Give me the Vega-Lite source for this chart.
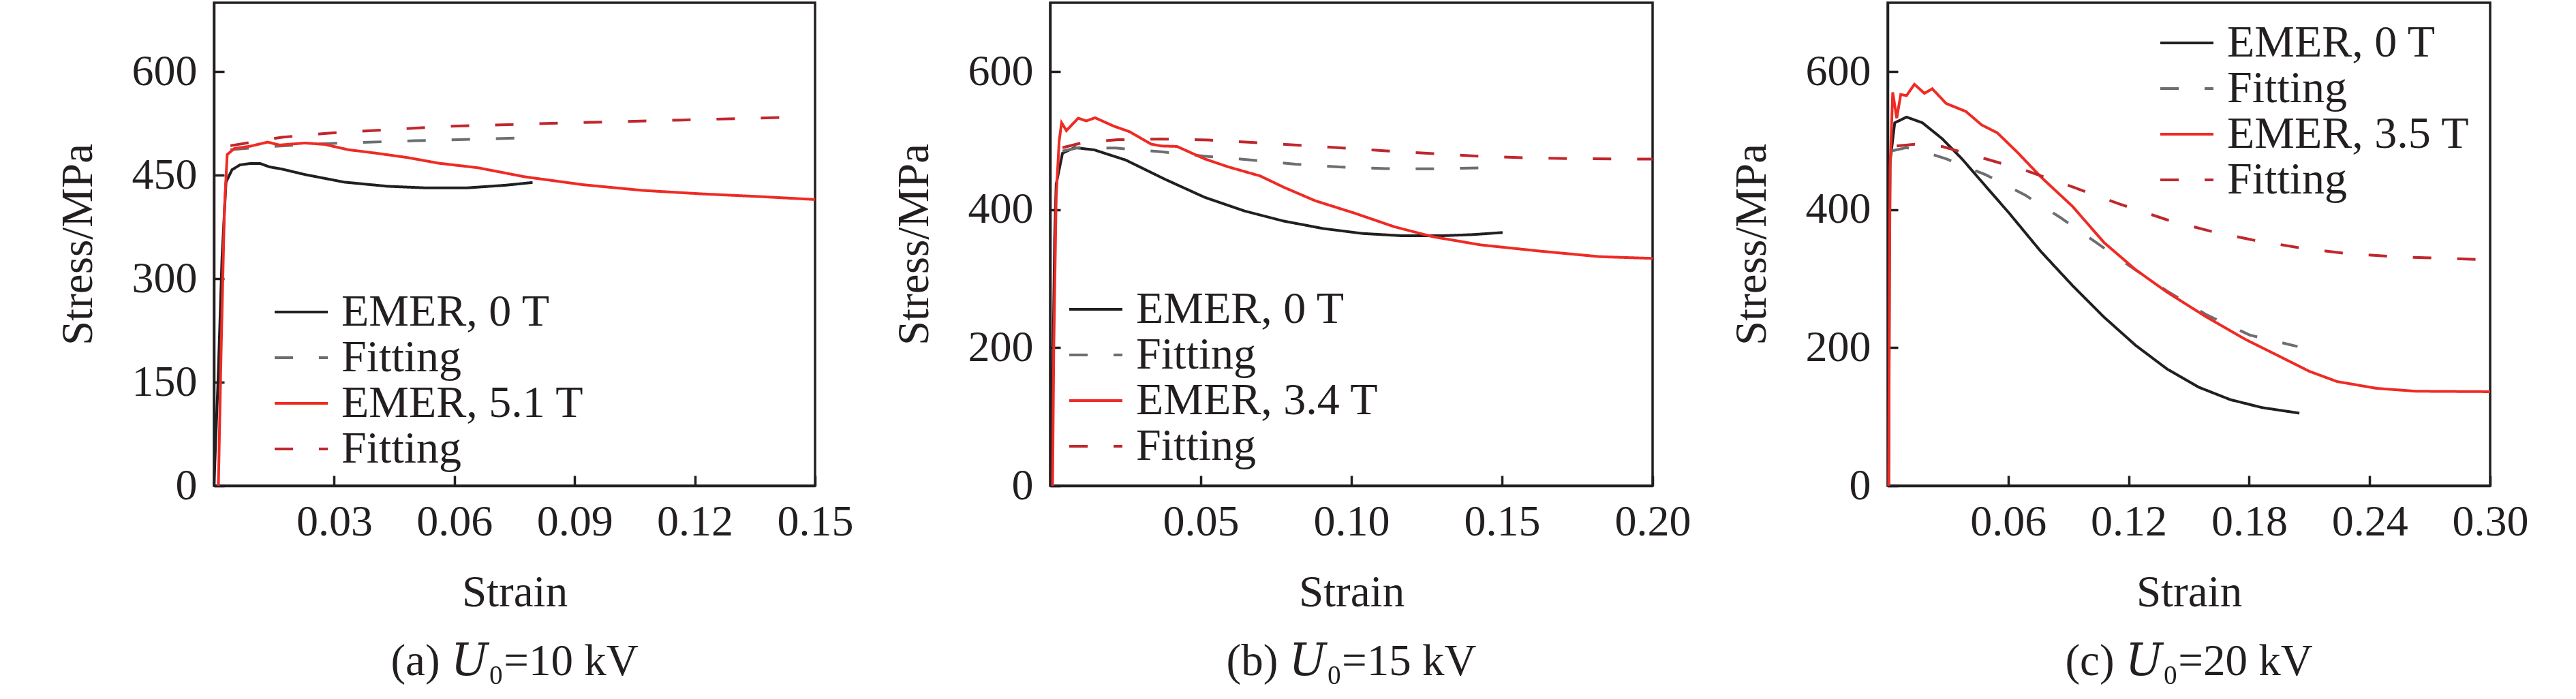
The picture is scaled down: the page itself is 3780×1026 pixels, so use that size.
{
  "$schema": "https://vega.github.io/schema/vega-lite/v6.json",
  "background": "white",
  "padding": {"left": 80, "top": 2, "right": 0, "bottom": 0},
  "spacing": 345,
  "bounds": "flush",
  "datasets": {
    "a": [
      {"s": 0, "v": 0, "k": "EMER, 0 T"}, {"s": 0.001, "v": 150, "k": "EMER, 0 T"}, {"s": 0.002, "v": 330, "k": "EMER, 0 T"},
      {"s": 0.003, "v": 440, "k": "EMER, 0 T"}, {"s": 0.0045, "v": 458, "k": "EMER, 0 T"}, {"s": 0.0065, "v": 465, "k": "EMER, 0 T"},
      {"s": 0.009, "v": 467, "k": "EMER, 0 T"}, {"s": 0.0115, "v": 467, "k": "EMER, 0 T"}, {"s": 0.0139, "v": 462, "k": "EMER, 0 T"},
      {"s": 0.0169, "v": 459, "k": "EMER, 0 T"}, {"s": 0.0227, "v": 451, "k": "EMER, 0 T"}, {"s": 0.0325, "v": 440, "k": "EMER, 0 T"},
      {"s": 0.0433, "v": 434, "k": "EMER, 0 T"}, {"s": 0.0531, "v": 431.6, "k": "EMER, 0 T"}, {"s": 0.0629, "v": 431.6, "k": "EMER, 0 T"},
      {"s": 0.0727, "v": 435.5, "k": "EMER, 0 T"}, {"s": 0.0795, "v": 439.5, "k": "EMER, 0 T"},
      {"s": 0.0041, "v": 487, "k": "Fitting"}, {"s": 0.015, "v": 492, "k": "Fitting"}, {"s": 0.0286, "v": 496, "k": "Fitting"},
      {"s": 0.05, "v": 500, "k": "Fitting"}, {"s": 0.0766, "v": 504, "k": "Fitting"},
      {"s": 0.0011, "v": 0, "k": "EMER, 5.1 T"}, {"s": 0.0018, "v": 200, "k": "EMER, 5.1 T"}, {"s": 0.0026, "v": 400, "k": "EMER, 5.1 T"},
      {"s": 0.0033, "v": 480, "k": "EMER, 5.1 T"}, {"s": 0.0051, "v": 488.8, "k": "EMER, 5.1 T"}, {"s": 0.009, "v": 492, "k": "EMER, 5.1 T"},
      {"s": 0.0134, "v": 498, "k": "EMER, 5.1 T"}, {"s": 0.0164, "v": 493.8, "k": "EMER, 5.1 T"}, {"s": 0.0227, "v": 496.7, "k": "EMER, 5.1 T"},
      {"s": 0.0276, "v": 494.7, "k": "EMER, 5.1 T"}, {"s": 0.0335, "v": 487, "k": "EMER, 5.1 T"}, {"s": 0.0404, "v": 482, "k": "EMER, 5.1 T"},
      {"s": 0.0482, "v": 475.7, "k": "EMER, 5.1 T"}, {"s": 0.056, "v": 467.5, "k": "EMER, 5.1 T"}, {"s": 0.0658, "v": 460.9, "k": "EMER, 5.1 T"},
      {"s": 0.0776, "v": 447.7, "k": "EMER, 5.1 T"}, {"s": 0.0922, "v": 436.2, "k": "EMER, 5.1 T"}, {"s": 0.107, "v": 428, "k": "EMER, 5.1 T"},
      {"s": 0.1217, "v": 423, "k": "EMER, 5.1 T"}, {"s": 0.1364, "v": 419, "k": "EMER, 5.1 T"}, {"s": 0.15, "v": 414.8, "k": "EMER, 5.1 T"},
      {"s": 0.0041, "v": 492.8, "k": "Fitting "}, {"s": 0.0169, "v": 505, "k": "Fitting "}, {"s": 0.0286, "v": 511, "k": "Fitting "},
      {"s": 0.058, "v": 520.8, "k": "Fitting "}, {"s": 0.0874, "v": 525.7, "k": "Fitting "}, {"s": 0.1168, "v": 530, "k": "Fitting "},
      {"s": 0.1434, "v": 534, "k": "Fitting "}
    ],
    "b": [
      {"s": 0.0005, "v": 0, "k": "EMER, 0 T"}, {"s": 0.001, "v": 200, "k": "EMER, 0 T"}, {"s": 0.0015, "v": 360, "k": "EMER, 0 T"},
      {"s": 0.002, "v": 437, "k": "EMER, 0 T"}, {"s": 0.0041, "v": 482, "k": "EMER, 0 T"}, {"s": 0.0081, "v": 490, "k": "EMER, 0 T"},
      {"s": 0.0146, "v": 486.8, "k": "EMER, 0 T"}, {"s": 0.0251, "v": 472, "k": "EMER, 0 T"}, {"s": 0.0382, "v": 444, "k": "EMER, 0 T"},
      {"s": 0.0513, "v": 418, "k": "EMER, 0 T"}, {"s": 0.0644, "v": 398.4, "k": "EMER, 0 T"}, {"s": 0.0775, "v": 383.6, "k": "EMER, 0 T"},
      {"s": 0.0906, "v": 372.8, "k": "EMER, 0 T"}, {"s": 0.1037, "v": 365.6, "k": "EMER, 0 T"}, {"s": 0.1168, "v": 362.3, "k": "EMER, 0 T"},
      {"s": 0.13, "v": 362.3, "k": "EMER, 0 T"}, {"s": 0.1404, "v": 364, "k": "EMER, 0 T"}, {"s": 0.1502, "v": 367, "k": "EMER, 0 T"},
      {"s": 0.0041, "v": 485, "k": "Fitting"}, {"s": 0.0093, "v": 490, "k": "Fitting"}, {"s": 0.0218, "v": 489.4, "k": "Fitting"},
      {"s": 0.0369, "v": 484, "k": "Fitting"}, {"s": 0.0513, "v": 477.6, "k": "Fitting"}, {"s": 0.067, "v": 472, "k": "Fitting"},
      {"s": 0.0814, "v": 466, "k": "Fitting"}, {"s": 0.0959, "v": 462, "k": "Fitting"}, {"s": 0.1116, "v": 459.6, "k": "Fitting"},
      {"s": 0.126, "v": 459.3, "k": "Fitting"}, {"s": 0.1441, "v": 460.6, "k": "Fitting"},
      {"s": 0.0008, "v": 0, "k": "EMER, 3.4 T"}, {"s": 0.0012, "v": 200, "k": "EMER, 3.4 T"}, {"s": 0.002, "v": 420, "k": "EMER, 3.4 T"},
      {"s": 0.003, "v": 500, "k": "EMER, 3.4 T"}, {"s": 0.0038, "v": 526, "k": "EMER, 3.4 T"}, {"s": 0.0054, "v": 514.7, "k": "EMER, 3.4 T"},
      {"s": 0.0093, "v": 532.7, "k": "EMER, 3.4 T"}, {"s": 0.012, "v": 528.7, "k": "EMER, 3.4 T"}, {"s": 0.0149, "v": 533.3, "k": "EMER, 3.4 T"},
      {"s": 0.0212, "v": 521, "k": "EMER, 3.4 T"}, {"s": 0.0264, "v": 513, "k": "EMER, 3.4 T"}, {"s": 0.0336, "v": 495, "k": "EMER, 3.4 T"},
      {"s": 0.0369, "v": 492.4, "k": "EMER, 3.4 T"}, {"s": 0.0421, "v": 491.7, "k": "EMER, 3.4 T"}, {"s": 0.0513, "v": 473.7, "k": "EMER, 3.4 T"},
      {"s": 0.0592, "v": 462, "k": "EMER, 3.4 T"}, {"s": 0.0697, "v": 449, "k": "EMER, 3.4 T"}, {"s": 0.0775, "v": 432.7, "k": "EMER, 3.4 T"},
      {"s": 0.088, "v": 413, "k": "EMER, 3.4 T"}, {"s": 0.1011, "v": 395, "k": "EMER, 3.4 T"}, {"s": 0.1142, "v": 375.4, "k": "EMER, 3.4 T"},
      {"s": 0.1273, "v": 360.7, "k": "EMER, 3.4 T"}, {"s": 0.143, "v": 349, "k": "EMER, 3.4 T"}, {"s": 0.1627, "v": 340, "k": "EMER, 3.4 T"},
      {"s": 0.1824, "v": 332, "k": "EMER, 3.4 T"}, {"s": 0.2, "v": 329.5, "k": "EMER, 3.4 T"},
      {"s": 0.0041, "v": 490, "k": "Fitting "}, {"s": 0.0106, "v": 497, "k": "Fitting "}, {"s": 0.0225, "v": 501.5, "k": "Fitting "},
      {"s": 0.0369, "v": 502.5, "k": "Fitting "}, {"s": 0.0526, "v": 501, "k": "Fitting "}, {"s": 0.067, "v": 497.6, "k": "Fitting "},
      {"s": 0.0828, "v": 493.4, "k": "Fitting "}, {"s": 0.0972, "v": 489.4, "k": "Fitting "}, {"s": 0.1116, "v": 485.2, "k": "Fitting "},
      {"s": 0.1273, "v": 481.3, "k": "Fitting "}, {"s": 0.1431, "v": 477.3, "k": "Fitting "}, {"s": 0.1575, "v": 475.4, "k": "Fitting "},
      {"s": 0.1732, "v": 474, "k": "Fitting "}, {"s": 0.2, "v": 473.4, "k": "Fitting "}
    ],
    "c": [
      {"s": 0.0005, "v": 0, "k": "EMER, 0 T"}, {"s": 0.0008, "v": 300, "k": "EMER, 0 T"}, {"s": 0.0012, "v": 470, "k": "EMER, 0 T"},
      {"s": 0.0035, "v": 526, "k": "EMER, 0 T"}, {"s": 0.0094, "v": 534.3, "k": "EMER, 0 T"}, {"s": 0.0173, "v": 526, "k": "EMER, 0 T"},
      {"s": 0.0271, "v": 503, "k": "EMER, 0 T"}, {"s": 0.037, "v": 473.7, "k": "EMER, 0 T"}, {"s": 0.0487, "v": 434.4, "k": "EMER, 0 T"},
      {"s": 0.0605, "v": 395, "k": "EMER, 0 T"}, {"s": 0.0763, "v": 339.4, "k": "EMER, 0 T"}, {"s": 0.092, "v": 290.2, "k": "EMER, 0 T"},
      {"s": 0.1077, "v": 244.4, "k": "EMER, 0 T"}, {"s": 0.1235, "v": 203.4, "k": "EMER, 0 T"}, {"s": 0.1392, "v": 169, "k": "EMER, 0 T"},
      {"s": 0.1549, "v": 142.8, "k": "EMER, 0 T"}, {"s": 0.1706, "v": 124.8, "k": "EMER, 0 T"}, {"s": 0.1864, "v": 113.3, "k": "EMER, 0 T"},
      {"s": 0.205, "v": 105.2, "k": "EMER, 0 T"},
      {"s": 0.0016, "v": 485, "k": "Fitting"}, {"s": 0.0094, "v": 490, "k": "Fitting"}, {"s": 0.0173, "v": 485, "k": "Fitting"},
      {"s": 0.0291, "v": 473.7, "k": "Fitting"}, {"s": 0.0487, "v": 450.8, "k": "Fitting"}, {"s": 0.0684, "v": 421.3, "k": "Fitting"},
      {"s": 0.0861, "v": 388.5, "k": "Fitting"}, {"s": 0.1038, "v": 352.5, "k": "Fitting"}, {"s": 0.1215, "v": 316.5, "k": "Fitting"},
      {"s": 0.1392, "v": 282, "k": "Fitting"}, {"s": 0.1588, "v": 247.7, "k": "Fitting"}, {"s": 0.1805, "v": 218.2, "k": "Fitting"},
      {"s": 0.2041, "v": 201.8, "k": "Fitting"},
      {"s": 0.0005, "v": 0, "k": "EMER, 3.5 T"}, {"s": 0.0009, "v": 300, "k": "EMER, 3.5 T"}, {"s": 0.0012, "v": 460.6, "k": "EMER, 3.5 T"},
      {"s": 0.0025, "v": 570, "k": "EMER, 3.5 T"}, {"s": 0.0045, "v": 532.7, "k": "EMER, 3.5 T"}, {"s": 0.0065, "v": 567, "k": "EMER, 3.5 T"},
      {"s": 0.0094, "v": 565.4, "k": "EMER, 3.5 T"}, {"s": 0.0133, "v": 581.8, "k": "EMER, 3.5 T"}, {"s": 0.0183, "v": 568.7, "k": "EMER, 3.5 T"},
      {"s": 0.0222, "v": 575.3, "k": "EMER, 3.5 T"}, {"s": 0.0291, "v": 554, "k": "EMER, 3.5 T"}, {"s": 0.0389, "v": 542.5, "k": "EMER, 3.5 T"},
      {"s": 0.0468, "v": 522.9, "k": "EMER, 3.5 T"}, {"s": 0.0546, "v": 511.4, "k": "EMER, 3.5 T"}, {"s": 0.0645, "v": 483.5, "k": "EMER, 3.5 T"},
      {"s": 0.0763, "v": 447.5, "k": "EMER, 3.5 T"}, {"s": 0.092, "v": 405, "k": "EMER, 3.5 T"}, {"s": 0.1077, "v": 352.5, "k": "EMER, 3.5 T"},
      {"s": 0.1235, "v": 313, "k": "EMER, 3.5 T"}, {"s": 0.1392, "v": 280.4, "k": "EMER, 3.5 T"}, {"s": 0.1588, "v": 244.4, "k": "EMER, 3.5 T"},
      {"s": 0.1785, "v": 211.6, "k": "EMER, 3.5 T"}, {"s": 0.1943, "v": 188.7, "k": "EMER, 3.5 T"}, {"s": 0.21, "v": 165.8, "k": "EMER, 3.5 T"},
      {"s": 0.2238, "v": 151, "k": "EMER, 3.5 T"}, {"s": 0.2434, "v": 141.2, "k": "EMER, 3.5 T"}, {"s": 0.263, "v": 137, "k": "EMER, 3.5 T"},
      {"s": 0.3, "v": 136.3, "k": "EMER, 3.5 T"},
      {"s": 0.0045, "v": 492.4, "k": "Fitting "}, {"s": 0.0133, "v": 495, "k": "Fitting "}, {"s": 0.0271, "v": 491.7, "k": "Fitting "},
      {"s": 0.0468, "v": 475.4, "k": "Fitting "}, {"s": 0.0684, "v": 457.3, "k": "Fitting "}, {"s": 0.094, "v": 431, "k": "Fitting "},
      {"s": 0.1156, "v": 408.2, "k": "Fitting "}, {"s": 0.1392, "v": 385.3, "k": "Fitting "}, {"s": 0.1608, "v": 368.9, "k": "Fitting "},
      {"s": 0.1824, "v": 355.8, "k": "Fitting "}, {"s": 0.2041, "v": 345.3, "k": "Fitting "}, {"s": 0.2277, "v": 336.8, "k": "Fitting "},
      {"s": 0.2532, "v": 331.9, "k": "Fitting "}, {"s": 0.2768, "v": 329.6, "k": "Fitting "}, {"s": 0.2985, "v": 327.6, "k": "Fitting "}
    ]
  },
  "resolve": {
    "scale": {"color": "independent", "strokeDash": "independent", "x": "independent", "y": "independent"},
    "legend": {"color": "independent", "strokeDash": "independent"}
  },
  "hconcat": [
    {
      "width": 882,
      "height": 709,
      "data": {"name": "a"},
      "title": {"text": "(a) 𝑈₀=10 kV"},
      "mark": {"type": "line", "strokeWidth": 4},
      "encoding": {
        "x": {"field": "s", "type": "quantitative", "title": "Strain",
          "scale": {"domain": [0, 0.15], "nice": false},
          "axis": {"values": [0.03, 0.06, 0.09, 0.12, 0.15], "format": ".2f"}},
        "y": {"field": "v", "type": "quantitative", "title": "Stress/MPa",
          "scale": {"domain": [0, 700], "nice": false},
          "axis": {"values": [0, 150, 300, 450, 600]}},
        "color": {"field": "k", "type": "nominal", "title": null,
          "scale": {"domain": ["EMER, 0 T", "Fitting", "EMER, 5.1 T", "Fitting "], "range": ["#231f20", "#6d6e71", "#ee2b24", "#c0272d"]},
          "legend": {"orient": "none", "legendX": 95, "legendY": 421}},
        "strokeDash": {"field": "k", "type": "nominal", "title": null,
          "scale": {"domain": ["EMER, 0 T", "Fitting", "EMER, 5.1 T", "Fitting "], "range": [[1, 0], [27, 38], [1, 0], [27, 38]]},
          "legend": {"orient": "none", "legendX": 95, "legendY": 421}}
      }
    },
    {
      "width": 884,
      "height": 709,
      "data": {"name": "b"},
      "title": {"text": "(b) 𝑈₀=15 kV"},
      "mark": {"type": "line", "strokeWidth": 4},
      "encoding": {
        "x": {"field": "s", "type": "quantitative", "title": "Strain",
          "scale": {"domain": [0, 0.2], "nice": false},
          "axis": {"values": [0.05, 0.1, 0.15, 0.2], "format": ".2f"}},
        "y": {"field": "v", "type": "quantitative", "title": "Stress/MPa",
          "scale": {"domain": [0, 700], "nice": false},
          "axis": {"values": [0, 200, 400, 600]}},
        "color": {"field": "k", "type": "nominal", "title": null,
          "scale": {"domain": ["EMER, 0 T", "Fitting", "EMER, 3.4 T", "Fitting "], "range": ["#231f20", "#6d6e71", "#ee2b24", "#c0272d"]},
          "legend": {"orient": "none", "legendX": 34, "legendY": 417}},
        "strokeDash": {"field": "k", "type": "nominal", "title": null,
          "scale": {"domain": ["EMER, 0 T", "Fitting", "EMER, 3.4 T", "Fitting "], "range": [[1, 0], [27, 38], [1, 0], [27, 38]]},
          "legend": {"orient": "none", "legendX": 34, "legendY": 417}}
      }
    },
    {
      "width": 884,
      "height": 709,
      "data": {"name": "c"},
      "title": {"text": "(c) 𝑈₀=20 kV"},
      "mark": {"type": "line", "strokeWidth": 4},
      "encoding": {
        "x": {"field": "s", "type": "quantitative", "title": "Strain",
          "scale": {"domain": [0, 0.3], "nice": false},
          "axis": {"values": [0.06, 0.12, 0.18, 0.24, 0.3], "format": ".2f"}},
        "y": {"field": "v", "type": "quantitative", "title": "Stress/MPa",
          "scale": {"domain": [0, 700], "nice": false},
          "axis": {"values": [0, 200, 400, 600]}},
        "color": {"field": "k", "type": "nominal", "title": null,
          "scale": {"domain": ["EMER, 0 T", "Fitting", "EMER, 3.5 T", "Fitting "], "range": ["#231f20", "#6d6e71", "#ee2b24", "#c0272d"]},
          "legend": {"orient": "none", "legendX": 406, "legendY": 26}},
        "strokeDash": {"field": "k", "type": "nominal", "title": null,
          "scale": {"domain": ["EMER, 0 T", "Fitting", "EMER, 3.5 T", "Fitting "], "range": [[1, 0], [27, 38], [1, 0], [27, 38]]},
          "legend": {"orient": "none", "legendX": 406, "legendY": 26}}
      }
    }
  ],
  "config": {
    "font": "Liberation Serif",
    "view": {"stroke": "#231f20", "strokeWidth": 3.5},
    "axis": {
      "grid": false,
      "domainColor": "#231f20",
      "domainWidth": 3.5,
      "tickColor": "#231f20",
      "tickWidth": 3.5,
      "tickSize": -15,
      "labelFlush": false,
      "labelFont": "Liberation Serif",
      "labelFontSize": 64,
      "labelColor": "#231f20",
      "titleFont": "Liberation Serif",
      "titleFontSize": 65,
      "titleFontWeight": "normal",
      "titleColor": "#231f20"
    },
    "axisX": {"labelPadding": 36, "titlePadding": 40},
    "axisY": {"labelPadding": 40, "titlePadding": 45},
    "legend": {
      "symbolType": "M-3,0H3",
      "symbolSize": 676,
      "symbolStrokeWidth": 4,
      "symbolFillColor": "transparent",
      "labelFont": "Liberation Serif",
      "labelFontSize": 66,
      "labelColor": "#231f20",
      "labelOffset": 26,
      "rowPadding": 1,
      "padding": 0,
      "labelLimit": 0
    },
    "title": {
      "orient": "bottom",
      "anchor": "middle",
      "font": "Liberation Serif, DejaVu Serif",
      "fontSize": 65,
      "fontWeight": "normal",
      "color": "#231f20",
      "offset": 38
    }
  }
}
